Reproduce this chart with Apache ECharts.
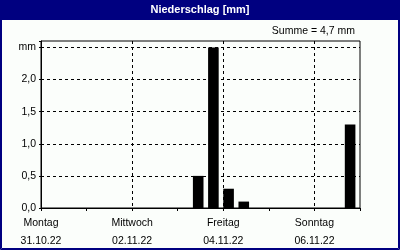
<!DOCTYPE html>
<html><head><meta charset="utf-8">
<script src="https://cdn.jsdelivr.net/npm/echarts@6/dist/echarts.min.js"></script>
<style>html,body{margin:0;padding:0;background:#fbfefb}#c{width:400px;height:250px}</style>
</head><body><div id="c"></div>
<script>
var titleText = 'Niederschlag [mm]';
var unit = 'mm';
var dayNames = ['Montag','Dienstag','Mittwoch','Donnerstag','Freitag','Samstag','Sonntag'];
var dates = ['31.10.22','01.11.22','02.11.22','03.11.22','04.11.22','05.11.22','06.11.22'];
// 8-hour buckets, Monday 00:00 .. Sunday 24:00 (21 buckets)
var buckets = ['Mo 0','Mo 8','Mo 16','Di 0','Di 8','Di 16','Mi 0','Mi 8','Mi 16','Do 0','Do 8','Do 16','Fr 0','Fr 8','Fr 16','Sa 0','Sa 8','Sa 16','So 0','So 8','So 16'];
var rain = [0,0,0, 0,0,0, 0,0,0, 0,0.5,2.5, 0.3,0.1,0, 0,0,0, 0,0,1.3];

var FONT = 'Liberation Sans';
var sum = rain.reduce(function(a,b){return a+b;},0);
var fmt = function(v){return v.toFixed(1).replace('.',',');};

var chart = echarts.init(document.getElementById('c'), null, {renderer:'canvas'});
chart.setOption({
  animation:false,
  backgroundColor:'#fbfefb',
  grid:{left:41,top:41,right:40,bottom:40,show:true,borderColor:'#000',borderWidth:1,backgroundColor:'transparent'},
  graphic:[
    {type:'rect',shape:{x:0,y:0,width:400,height:20},style:{fill:'#000080'},z:10},
    {type:'rect',shape:{x:0.5,y:0.5,width:399,height:249},style:{fill:null,stroke:'#000080',lineWidth:1},z:10},
    {type:'rect',shape:{x:1.5,y:1.5,width:397,height:247},style:{fill:null,stroke:'#000080',lineWidth:1},z:10},
    {type:'text',left:'center',top:4,style:{text:titleText,fill:'#fff',font:'bold 11px '+FONT},z:11},
    {type:'text',right:45,top:26,style:{text:'Summe = '+fmt(sum)+' '+unit,fill:'#000',font:'10.5px '+FONT},z:11}
  ],
  xAxis:[
    {type:'value',min:0,max:7,interval:2,position:'bottom',
     axisLine:{show:true,lineStyle:{color:'#000',width:1}},
     axisTick:{show:true,length:3,lineStyle:{color:'#000'}},
     minorTick:{show:true,splitNumber:2,length:3,lineStyle:{color:'#000'}},
     splitLine:{show:true,showMinLine:false,showMaxLine:false,lineStyle:{color:'#000',type:[3,3],width:1}},
     axisLabel:{color:'#000',fontFamily:FONT,fontSize:10.5,lineHeight:18,margin:6,
       formatter:function(v){return (v%2===0 && v<7)? dayNames[v]+'\n'+dates[v] : '';}}},
    {type:'category',data:buckets,show:false,boundaryGap:true}
  ],
  yAxis:{type:'value',min:0,max:2.6,interval:0.5,
    axisLine:{show:true,lineStyle:{color:'#000'}},
    axisTick:{show:true,length:2,lineStyle:{color:'#000'}},
    splitLine:{show:true,showMinLine:false,showMaxLine:false,lineStyle:{color:'#000',type:[3,3],width:1}},
    axisLabel:{color:'#000',fontFamily:FONT,fontSize:10.5,margin:5,
      formatter:function(v){ if(Math.abs(v-2.5)<1e-9) return unit; if(Math.abs(v*2-Math.round(v*2))>1e-9) return ''; return fmt(v);}}},
  series:[
    {type:'bar',xAxisIndex:1,data:rain,barWidth:10.6,barGap:'0%',itemStyle:{color:'#000'},silent:true,z:2},
    {type:'bar',xAxisIndex:1,data:rain.map(function(){return 0;}),barWidth:4.6,barGap:'0%',itemStyle:{color:'rgba(0,0,0,0)'},silent:true}
  ]
});
</script></body></html>
